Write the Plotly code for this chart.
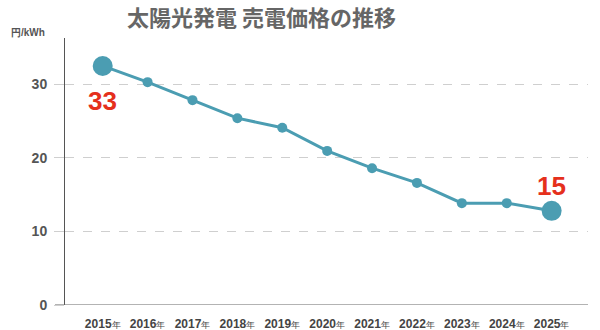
import plotly.graph_objects as go

years = ["2015", "2016", "2017", "2018", "2019", "2020", "2021", "2022", "2023", "2024", "2025"]
prices = [32.5, 30.3, 27.85, 25.4, 24.1, 20.95, 18.6, 16.6, 13.85, 13.85, 12.8]
highlight_labels = {"2015": "33", "2025": "15"}
y_ticks = [0, 10, 20, 30]

title_text = "太陽光発電 売電価格の推移"
unit_text = "円/kWh"

LINE = "#4b9db2"
RED = "#e5301c"
FONT = "Liberation Sans, Arial, sans-serif"

W, H = 600, 330
L, R, T, B = 65, 12, 38, 25
pw = W - L - R
ph = H - T - B


def px_to_paper_y(py):
    return (H - B - py) / ph


def px_to_paper_x(px):
    return (px - L) / pw


fig = go.Figure()
sizes = [20 if y in highlight_labels else 10 for y in years]
fig.add_trace(go.Scatter(
    x=years, y=prices, mode="lines+markers",
    line=dict(color=LINE, width=3),
    marker=dict(color=LINE, size=sizes, opacity=1, line=dict(width=0)),
    hoverinfo="skip", showlegend=False,
))

tick_text = [f"<b>{y}</b><span style='font-size:9px'>年</span>" for y in years]

annotations = []
for i, y in enumerate(years):
    if y in highlight_labels:
        shift = -35 if i == 0 else 25
        annotations.append(dict(
            x=i, y=prices[i], xref="x", yref="y", text=f"<b>{highlight_labels[y]}</b>",
            showarrow=False, yshift=shift, font=dict(family=FONT, size=26, color=RED),
        ))

annotations.append(dict(
    x=px_to_paper_x(261), y=px_to_paper_y(16), xref="paper", yref="paper",
    xanchor="center", yanchor="middle",
    text=f"<b>{title_text}</b>", showarrow=False,
    font=dict(family="Noto Sans CJK JP", size=22, color="#666666"),
))
annotations.append(dict(
    x=px_to_paper_x(9), y=px_to_paper_y(33), xref="paper", yref="paper",
    xanchor="left", yanchor="middle", showarrow=False,
    text=f"<b>{unit_text}</b>",
    font=dict(family=FONT, size=10, color="#555555"),
))

fig.update_layout(
    width=W, height=H,
    margin=dict(l=L, r=R, t=T, b=B, autoexpand=False),
    paper_bgcolor="white", plot_bgcolor="white",
    annotations=annotations,
    xaxis=dict(
        type="category", categoryorder="array", categoryarray=years,
        range=[-0.84, 10.81],
        tickvals=years, ticktext=tick_text,
        showgrid=False, zeroline=False, showline=False,
        ticks="", ticklabelstandoff=10, automargin=False,
        tickfont=dict(family=FONT, size=12, color="#444444"),
        fixedrange=True,
    ),
    yaxis=dict(
        range=[0, 36.3], tickvals=y_ticks,
        ticktext=[f"<b>{v}</b>" for v in y_ticks],
        showgrid=True, gridcolor="#cfcfcf", griddash="dash", gridwidth=1,
        zeroline=False, showline=True, linecolor="#555555", linewidth=1,
        ticks="outside", ticklen=10, tickcolor="#cfcfcf", ticklabelstandoff=4,
        automargin=False,
        tickfont=dict(family=FONT, size=14, color="#555555"),
        fixedrange=True,
    ),
    shapes=[dict(
        type="line", xref="paper", yref="y", x0=-10 / pw, x1=1, y0=0, y1=0,
        line=dict(color="#666666", width=1), layer="above",
    )],
)

fig.write_html("out.html")
